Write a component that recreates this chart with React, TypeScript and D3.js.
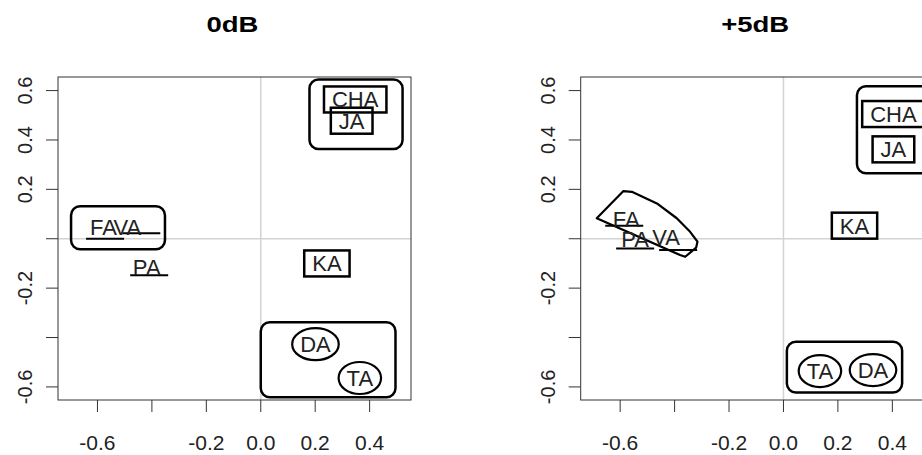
import * as d3 from "d3";

const W = 922;
const H = 455;

const titles = ["0dB", "+5dB"];

const xTicks = [-0.6, -0.4, -0.2, 0, 0.2, 0.4];
const xTickText = ["-0.6", "", "-0.2", "0.0", "0.2", "0.4"];
const yTicks = [-0.6, -0.4, -0.2, 0, 0.2, 0.4, 0.6];
const yTickText = ["-0.6", "", "-0.2", "", "0.2", "0.4", "0.6"];

const xDomain = [-0.745, 0.552];
const yDomain = [-0.653, 0.655];

// label position (x, y); underlined labels also carry the point (px, py)
const labels0 = [
  { name: "CHA", x: 0.347, y: 0.564, kind: "box" },
  { name: "JA", x: 0.334, y: 0.478, kind: "box" },
  { name: "KA", x: 0.243, y: -0.1, kind: "box" },
  { name: "DA", x: 0.201, y: -0.427, kind: "ellipse" },
  { name: "TA", x: 0.364, y: -0.564, kind: "ellipse" },
  { name: "FA", x: -0.578, y: 0.049, px: -0.572, py: 0.0, kind: "under" },
  { name: "VA", x: -0.49, y: 0.049, px: -0.439, py: 0.022, kind: "under" },
  { name: "PA", x: -0.419, y: -0.113, px: -0.41, py: -0.148, kind: "under" },
];

const labels5 = [
  { name: "CHA", x: 0.404, y: 0.505, kind: "box" },
  { name: "JA", x: 0.404, y: 0.362, kind: "box" },
  { name: "KA", x: 0.261, y: 0.053, kind: "box" },
  { name: "TA", x: 0.134, y: -0.536, kind: "ellipse" },
  { name: "DA", x: 0.329, y: -0.532, kind: "ellipse" },
  { name: "FA", x: -0.578, y: 0.08, px: -0.585, py: 0.053, kind: "under" },
  { name: "PA", x: -0.545, y: -0.001, px: -0.545, py: -0.04, kind: "under" },
  { name: "VA", x: -0.431, y: 0.006, px: -0.387, py: -0.046, kind: "under" },
];

// cluster ranges [xmin, xmax, ymin, ymax]
const groups0 = [
  [0.179, 0.521, 0.363, 0.645],
  [-0.697, -0.352, -0.043, 0.132],
  [0.0, 0.495, -0.642, -0.338],
];
const groups5 = [
  [0.27, 0.55, 0.265, 0.618],
  [0.0125, 0.436, -0.623, -0.417],
];

// hull around FA / PA / VA at +5dB
const hull5: [number, number][] = [
  [-0.686, 0.083],
  [-0.588, 0.193],
  [-0.557, 0.19],
  [-0.465, 0.143],
  [-0.392, 0.083],
  [-0.343, 0.028],
  [-0.316, -0.012],
  [-0.321, -0.036],
  [-0.361, -0.073],
  [-0.38, -0.066],
];

const FONT = "'Liberation Sans', Arial, Helvetica, sans-serif";
const LABEL_SIZE = 22;

const ctx = typeof document !== "undefined" ? document.createElement("canvas").getContext("2d") : null;
function textWidth(s: string) {
  if (!ctx) return s.length * LABEL_SIZE * 0.65;
  ctx.font = `${LABEL_SIZE}px ${FONT}`;
  return ctx.measureText(s).width;
}

function Panel({ id, title, left, labels, groups, hull }: any) {
  const x = d3.scaleLinear().domain(xDomain).range([left, left + 353]);
  const y = d3.scaleLinear().domain(yDomain).range([400, 77]);
  const [x0, x1] = x.range();
  const [y0, y1] = y.range();
  const line = d3
    .line<[number, number]>()
    .x((d) => x(d[0]))
    .y((d) => y(d[1]))
    .curve(d3.curveLinearClosed);

  return (
    <g>
      <defs>
        <clipPath id={id}>
          <rect x={x0} y={y1} width={x1 - x0} height={y0 - y1} />
        </clipPath>
      </defs>
      <text
        transform={`translate(${(x0 + x1) / 2 - 2},32) scale(1.25,1)`}
        textAnchor="middle"
        fontFamily={FONT}
        fontWeight="bold"
        fontSize={22}
        fill="#000"
      >
        {title}
      </text>

      {/* zero reference lines */}
      <line x1={x(0)} x2={x(0)} y1={y1} y2={y0} stroke="#d3d3d3" strokeWidth={1.5} />
      <line x1={x0} x2={x1} y1={y(0)} y2={y(0)} stroke="#d3d3d3" strokeWidth={1.5} />

      {/* axes */}
      {xTicks.map((t, i) => (
        <g key={"x" + i}>
          <line x1={x(t)} x2={x(t)} y1={y0} y2={y0 + 12} stroke="#333" />
          <text x={x(t)} y={450} textAnchor="middle" fontFamily={FONT} fontSize={21} fill="#222">
            {xTickText[i]}
          </text>
        </g>
      ))}
      {yTicks.map((t, i) => (
        <g key={"y" + i}>
          <line x1={x0 - 12} x2={x0} y1={y(t)} y2={y(t)} stroke="#333" />
          <text
            transform={`translate(${x0 - 26},${y(t)}) rotate(-90)`}
            textAnchor="middle"
            fontFamily={FONT}
            fontSize={20}
            fill="#222"
          >
            {yTickText[i]}
          </text>
        </g>
      ))}

      <g clipPath={`url(#${id})`} fill="none" stroke="#000">
        {groups.map((g: number[], i: number) => (
          <rect
            key={"g" + i}
            x={x(g[0])}
            y={y(g[3])}
            width={x(g[1]) - x(g[0])}
            height={y(g[2]) - y(g[3])}
            rx={9}
            strokeWidth={2.5}
          />
        ))}
        {hull && <path d={line(hull) || ""} strokeWidth={2.2} strokeLinejoin="round" />}
        {labels.map((d: any) => {
          const tw = textWidth(d.name);
          if (d.kind === "box")
            return (
              <rect
                key={"m" + d.name}
                x={x(d.x) - tw / 2 - 8}
                y={y(d.y) - 13}
                width={tw + 16}
                height={26}
                strokeWidth={2.5}
              />
            );
          if (d.kind === "ellipse")
            return <ellipse key={"m" + d.name} cx={x(d.x)} cy={y(d.y)} rx={tw / 2 + 8} ry={16} strokeWidth={2.2} />;
          return (
            <line
              key={"m" + d.name}
              x1={x(d.px) - 19}
              x2={x(d.px) + 19}
              y1={y(d.py)}
              y2={y(d.py)}
              strokeWidth={2}
            />
          );
        })}
      </g>

      {labels.map((d: any) => (
        <text
          key={"t" + d.name}
          x={x(d.x)}
          y={y(d.y)}
          dy="0.36em"
          textAnchor="middle"
          fontFamily={FONT}
          fontSize={LABEL_SIZE}
          fill="#222"
        >
          {d.name}
        </text>
      ))}

      <rect x={x0} y={y1} width={x1 - x0} height={y0 - y1} fill="none" stroke="#333" strokeWidth={1} />
    </g>
  );
}

export default function App() {
  return (
    <svg width={W} height={H} style={{ position: "absolute", left: 0, top: 0, background: "#fff" }}>
      <rect width={W} height={H} fill="#fff" />
      <Panel id="clip0" title={titles[0]} left={58} labels={labels0} groups={groups0} />
      <Panel id="clip5" title={titles[1]} left={580.7} labels={labels5} groups={groups5} hull={hull5} />
    </svg>
  );
}
